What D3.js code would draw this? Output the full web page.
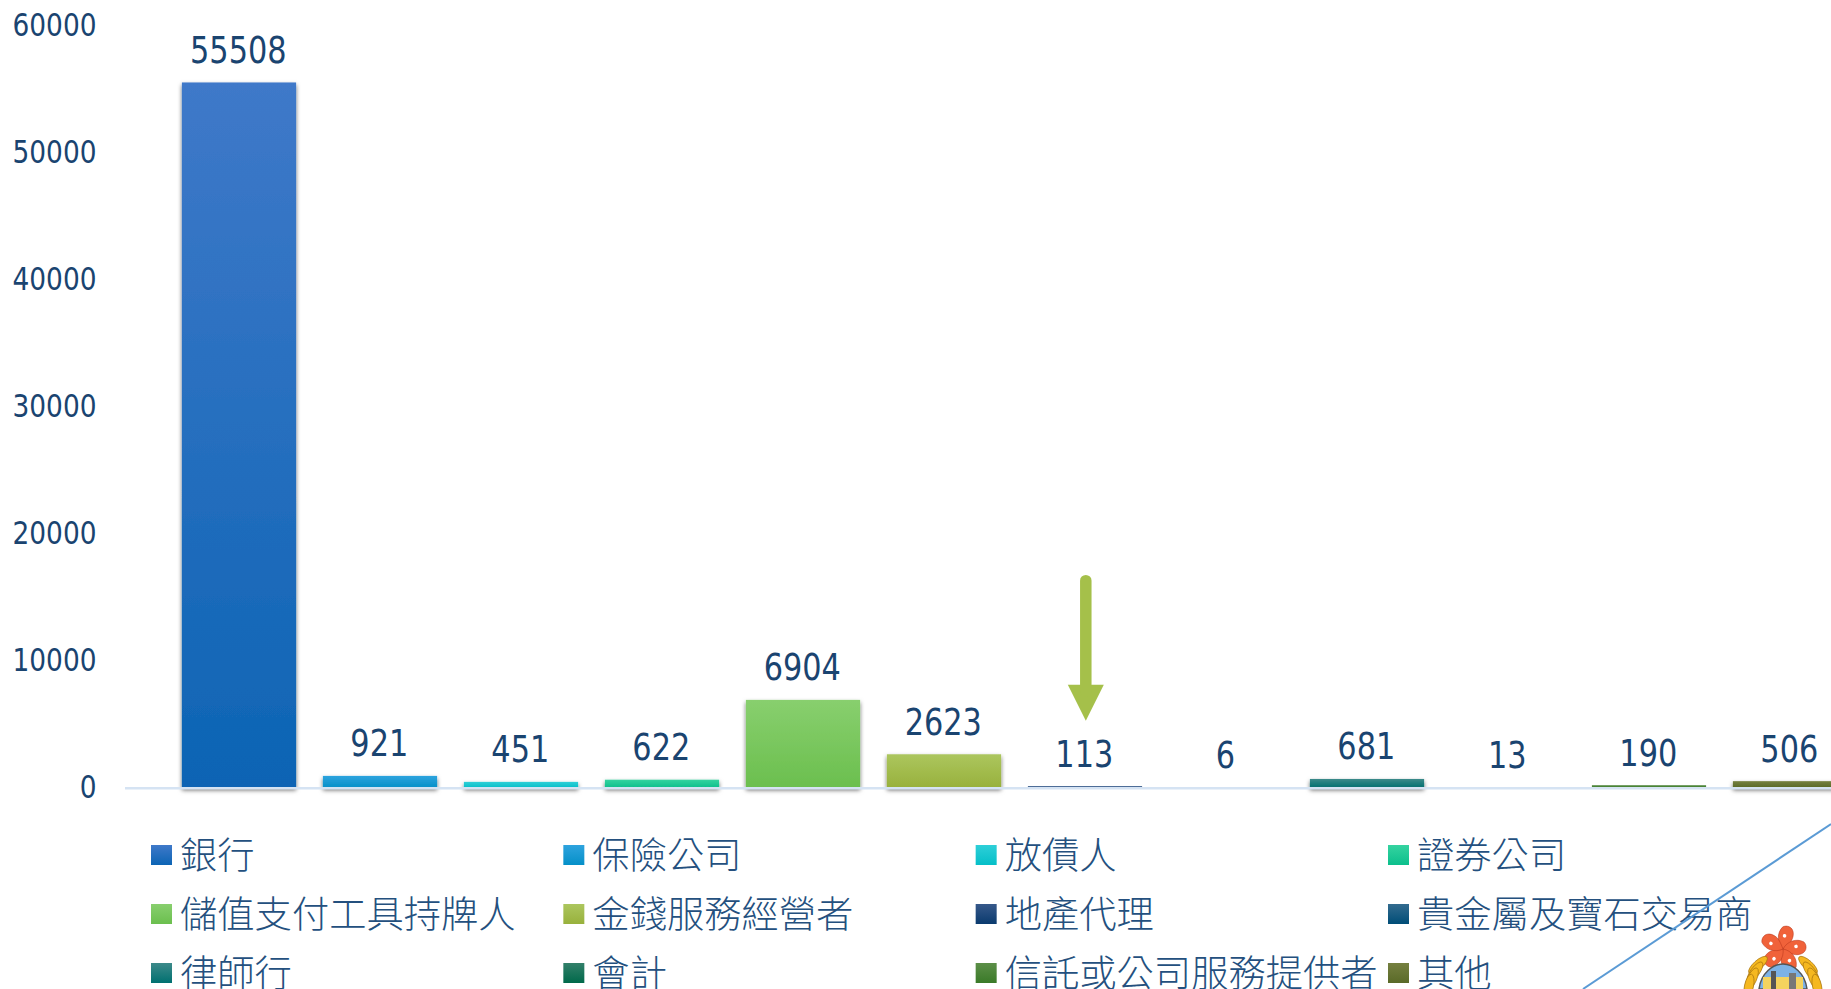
<!DOCTYPE html>
<html lang="zh-Hant">
<head>
<meta charset="UTF-8">
<title>Chart</title>
<script src="https://d3js.org/d3.v7.min.js"></script>
<style>
    html, body { margin: 0; background: #fff; overflow: hidden; }
    .num { font-family: "DejaVu Sans", sans-serif; font-stretch: condensed; fill: #1a4470; }
    .legend text { font-family: "Noto Sans CJK TC", sans-serif; font-size: 37.3px; font-weight: 300; fill: #24507e; }
</style>
</head>
<body>
<svg id="chart" width="1831" height="989"></svg>
<script>
// Values
const categories = ["銀行", "保險公司", "放債人", "證券公司", "儲值支付工具持牌人", "金錢服務經營者",
    "地產代理", "貴金屬及寶石交易商", "律師行", "會計", "信託或公司服務提供者", "其他"];
const values = [55508, 921, 451, 622, 6904, 2623, 113, 6, 681, 13, 190, 506];
const yTicks = [0, 10000, 20000, 30000, 40000, 50000, 60000];
const gradientTop = ["#3f79c9", "#2ea3de", "#2ecfd8", "#35d3a0", "#88cf6e", "#acc65e", "#36588a", "#336b8f", "#3d8a8a", "#33806a", "#5c8f48", "#758040"];
const gradientBottom = ["#0c64b4", "#0590c8", "#05bfc8", "#0cbf8c", "#6bbf4e", "#98b13c", "#0a3a6e", "#004d77", "#007070", "#00694a", "#3a7a28", "#5a6a28"];
const highlighted = "地產代理";

const svg = d3.select("#chart");

const x = d3.scaleBand().domain(categories).range([168.5, 1860.5]).paddingInner(0.19).paddingOuter(0.095);
const y = d3.scaleLinear().domain([0, 60000]).range([787.6, 25.4]);

const defs = svg.append("defs");

categories.forEach((c, i) => {
    const g = defs.append("linearGradient")
        .attr("id", "grad" + i)
        .attr("x1", 0).attr("y1", 0).attr("x2", 0).attr("y2", 1);
    g.append("stop").attr("offset", "0%").attr("stop-color", gradientTop[i]);
    g.append("stop").attr("offset", "100%").attr("stop-color", gradientBottom[i]);
});

// soft shadow under the bars
const shadow = defs.append("filter")
    .attr("id", "shadow")
    .attr("filterUnits", "userSpaceOnUse")
    .attr("x", 0).attr("y", 0).attr("width", 1831).attr("height", 989);
shadow.append("feDropShadow")
    .attr("dx", 0).attr("dy", 2.5)
    .attr("stdDeviation", 2.2)
    .attr("flood-color", "#000")
    .attr("flood-opacity", 0.6);

// bars
svg.append("g").selectAll("rect")
    .data(values)
    .enter()
    .append("rect")
    .attr("x", (d, i) => x(categories[i]))
    .attr("y", d => y(d))
    .attr("width", x.bandwidth())
    .attr("height", d => y(0) - y(d))
    .attr("fill", (d, i) => "url(#grad" + i + ")")
    .attr("filter", d => d >= 400 ? "url(#shadow)" : null);

// baseline
svg.append("line")
    .attr("x1", 125).attr("x2", 1831)
    .attr("y1", y(0) + 0.7).attr("y2", y(0) + 0.7)
    .attr("stroke", "#d5e3f3")
    .attr("stroke-width", 2.5);

// y axis
const yAxis = svg.append("g")
    .attr("transform", "translate(96.5,0)")
    .call(d3.axisLeft(y).tickValues(yTicks).tickSize(0).tickPadding(0).tickFormat(d3.format("d")));
yAxis.select(".domain").remove();
yAxis.selectAll("text")
    .attr("class", "num")
    .style("font-size", "31.5px")
    .attr("lengthAdjust", "spacingAndGlyphs")
    .attr("textLength", d => String(d).length * 16.8);

// value labels
svg.append("g").selectAll("text")
    .data(values)
    .enter()
    .append("text")
    .attr("class", "num")
    .attr("x", (d, i) => x(categories[i]) + x.bandwidth() / 2 - 0.7)
    .attr("y", d => y(d) - 19.6)
    .attr("text-anchor", "middle")
    .style("font-size", "37px")
    .attr("lengthAdjust", "spacingAndGlyphs")
    .attr("textLength", d => String(d).length * 19.3)
    .text(d => d);

// arrow pointing at the highlighted category
const ax = x(highlighted) + x.bandwidth() / 2 + 0.8;
const tipY = y(values[categories.indexOf(highlighted)]) - 65.5;
svg.append("path")
    .attr("d", d3.line()([[ax, tipY], [ax - 18, tipY - 36], [ax + 18, tipY - 36]]) + "Z")
    .attr("fill", "#a5c04a");
svg.append("line")
    .attr("x1", ax).attr("x2", ax)
    .attr("y1", tipY - 30).attr("y2", tipY - 140)
    .attr("stroke", "#a5c04a")
    .attr("stroke-width", 11.5)
    .attr("stroke-linecap", "round");

// legend
const legend = svg.append("g").attr("class", "legend");
const legendX = d3.scaleLinear().domain([0, 3]).range([151, 1388]);
const legendY = d3.scaleLinear().domain([0, 2]).range([845, 963]);
const items = legend.selectAll("g")
    .data(categories)
    .enter()
    .append("g")
    .attr("transform", (d, i) => `translate(${legendX(i % 4)},${legendY(Math.floor(i / 4))})`);
items.append("rect")
    .attr("width", 21)
    .attr("height", 20)
    .attr("fill", (d, i) => "url(#grad" + i + ")");
items.append("text")
    .attr("x", 29)
    .attr("y", 24)
    .text(d => d);

// diagonal line from the slide behind the chart
svg.append("line")
    .attr("x1", 1583).attr("y1", 989)
    .attr("x2", 1831).attr("y2", 824)
    .attr("stroke", "#5b9bd5")
    .attr("stroke-width", 2);

// emblem in the corner
const emblem = svg.append("g").attr("transform", "translate(1783,949)");
d3.range(5).forEach(i => {
    const petal = emblem.append("g").attr("transform", `rotate(${i * 72 + 12}) scale(1.2)`);
    petal.append("path")
        .attr("d", "M0,0 C-6,-4 -8,-12 -4,-18 C0,-21 6,-19 6,-12 C6,-7 3,-4 0,0Z")
        .attr("fill", "#f0623a")
        .attr("stroke", "#b5351a")
        .attr("stroke-width", 0.4);
    petal.append("circle").attr("cx", -1).attr("cy", -11).attr("r", 1.5).attr("fill", "#fff");
});
emblem.append("path").attr("d", "M-24,40 C-22,24 -10,15 0,15 C10,15 22,24 24,40Z").attr("fill", "#7db2e6").attr("stroke", "#555").attr("stroke-width", 1.5);
emblem.append("rect").attr("x", -20).attr("y", 28).attr("width", 40).attr("height", 12).attr("fill", "#f4d35e");
emblem.append("rect").attr("x", -12).attr("y", 22).attr("width", 5).attr("height", 18).attr("fill", "#555");
emblem.append("rect").attr("x", 6).attr("y", 24).attr("width", 7).attr("height", 16).attr("fill", "#777");
[-1, 1].forEach(s => {
    d3.range(4).forEach(i => {
        emblem.append("ellipse")
            .attr("rx", 4.5).attr("ry", 12)
            .attr("transform", `translate(${s * (25 + i * 3)},${16 + i * 7}) rotate(${-s * (48 - i * 12)})`)
            .attr("fill", "#f5b820")
            .attr("stroke", "#a87410")
            .attr("stroke-width", 0.7);
    });
});
</script>
</body>
</html>
